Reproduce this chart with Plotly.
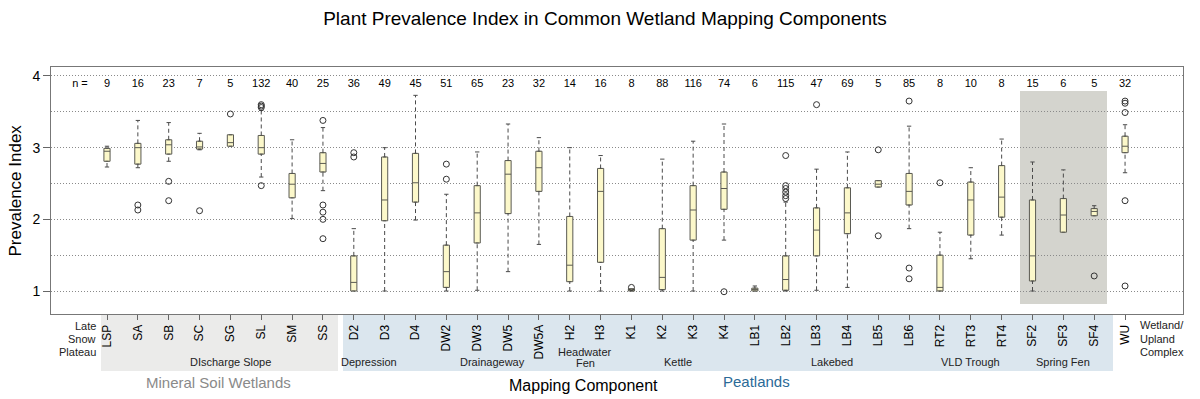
import plotly.graph_objects as go

# ---------------- data ----------------
categories = ["LSP", "SA", "SB", "SC", "SG", "SL", "SM", "SS",
              "D2", "D3", "D4", "DW2", "DW3", "DW5", "DW5A", "H2", "H3",
              "K1", "K2", "K3", "K4", "LB1", "LB2", "LB3", "LB4", "LB5", "LB6",
              "RT2", "RT3", "RT4", "SF2", "SF3", "SF4", "WU"]
n_counts = [9, 16, 23, 7, 5, 132, 40, 25,
            36, 49, 45, 51, 65, 23, 32, 14, 16,
            8, 88, 116, 74, 6, 115, 47, 69, 5, 85,
            8, 10, 8, 15, 6, 5, 32]
lower_whisker = [2.73, 2.72, 2.81, 2.97, 3.02, 2.59, 2.01, 2.40,
                 1.00, 1.00, 1.99, 1.00, 1.01, 1.27, 1.65, 1.00, 1.00,
                 1.00, 1.00, 1.00, 1.71, 1.00, 1.00, 1.01, 1.05, 2.45, 1.87,
                 1.00, 1.45, 1.78, 1.00, 1.82, 2.05, 2.65]
q1 = [2.81, 2.77, 2.91, 2.98, 3.02, 2.91, 2.30, 2.66,
      1.00, 1.98, 2.24, 1.05, 1.67, 2.08, 2.39, 1.13, 1.40,
      1.00, 1.02, 1.71, 2.14, 1.00, 1.01, 1.49, 1.80, 2.45, 2.20,
      1.00, 1.78, 2.03, 1.14, 1.82, 2.05, 2.93]
median = [2.95, 3.00, 3.04, 3.01, 3.07, 3.00, 2.49, 2.78,
          1.12, 2.27, 2.51, 1.27, 2.09, 2.63, 2.72, 1.36, 2.39,
          1.01, 1.19, 2.13, 2.43, 1.02, 1.16, 1.85, 2.09, 2.49, 2.39,
          1.05, 2.27, 2.31, 1.49, 2.06, 2.11, 3.02]
q3 = [2.99, 3.06, 3.11, 3.09, 3.18, 3.17, 2.64, 2.93,
      1.49, 2.87, 2.92, 1.64, 2.47, 2.82, 2.95, 2.04, 2.71,
      1.03, 1.87, 2.47, 2.66, 1.04, 1.49, 2.16, 2.44, 2.54, 2.64,
      1.50, 2.52, 2.75, 2.27, 2.29, 2.15, 3.16]
upper_whisker = [3.02, 3.38, 3.35, 3.20, 3.18, 3.52, 3.11, 3.28,
                 1.87, 3.00, 3.73, 2.35, 2.94, 3.33, 3.14, 3.00, 2.89,
                 1.03, 2.84, 3.09, 3.33, 1.07, 2.24, 2.70, 2.94, 2.54, 3.30,
                 1.82, 2.72, 3.12, 2.80, 2.69, 2.19, 3.32]
outlier_cat = ["SA", "SA", "SB", "SB", "SC", "SG", "SL", "SL", "SL", "SL",
               "SS", "SS", "SS", "SS", "SS", "D2", "D2", "DW2", "DW2", "K1", "K4",
               "LB2", "LB2", "LB2", "LB2", "LB2", "LB2", "LB3", "LB5", "LB5",
               "LB6", "LB6", "LB6", "RT2", "SF4", "WU", "WU", "WU", "WU", "WU"]
outlier_val = [2.20, 2.13, 2.53, 2.26, 2.12, 3.47, 3.60, 3.58, 3.56, 2.47,
               3.38, 2.20, 2.10, 2.00, 1.73, 2.93, 2.87, 2.77, 2.56, 1.05, 0.99,
               2.89, 2.47, 2.43, 2.38, 2.33, 2.29, 3.60, 2.97, 1.77,
               3.65, 1.32, 1.17, 2.51, 1.21, 3.65, 3.62, 3.49, 2.26, 1.07]
y_ticks = [1, 2, 3, 4]

group_labels = ["DIscharge Slope", "Depression", "Drainageway", "Kettle",
                "Lakebed", "VLD Trough", "Spring Fen"]
group_centers = [5, 9.5, 13.5, 19.5, 24.5, 29, 32]

# ---------------- helpers ----------------
pos = list(range(1, len(categories) + 1))
pos_of = {c: p for c, p in zip(categories, pos)}

W, H = 1200, 399
ML, MR, MT, MB = 51, 17, 67, 85
X0, STEP = 107, 30.85          # pixel of first category, pixels per category
xr = [1 + (ML - X0) / STEP, 1 + (W - MR - X0) / STEP]
y_px1, y_unit = 291, 71.67
yr = [1 + (y_px1 - (H - MB)) / y_unit, 1 + (y_px1 - MT) / y_unit]
plot_h = H - MB - MT


def py(px):
    """pixel row -> paper y"""
    return (H - MB - px) / plot_h


def dx(px):
    """pixel column -> data x"""
    return 1 + (px - X0) / STEP


fig = go.Figure()

# whiskers (dashed) and caps
wx, wy, cx, cy = [], [], [], []
cap = 0.07
for p, lo, a, b, hi in zip(pos, lower_whisker, q1, q3, upper_whisker):
    if hi > b + 0.005:
        wx += [p, p, None]; wy += [b, hi, None]
        cx += [p - cap, p + cap, None]; cy += [hi, hi, None]
    if lo < a - 0.005:
        wx += [p, p, None]; wy += [lo, a, None]
        cx += [p - cap, p + cap, None]; cy += [lo, lo, None]

fig.add_trace(go.Scatter(x=wx, y=wy, mode="lines", hoverinfo="skip",
                         line=dict(color="#4a4a4a", width=1, dash="4px,3px"),
                         showlegend=False))
fig.add_trace(go.Scatter(x=cx, y=cy, mode="lines", hoverinfo="skip",
                         line=dict(color="#4a4a4a", width=1), showlegend=False))

fig.add_trace(go.Box(x=pos, q1=q1, median=median, q3=q3,
                     lowerfence=q1, upperfence=q3, width=0.2,
                     fillcolor="#FCF8CA", line=dict(color="#5a5a52", width=1),
                     boxpoints=False, showlegend=False, hoverinfo="skip"))

fig.add_trace(go.Scatter(x=[pos_of[c] for c in outlier_cat], y=outlier_val,
                         mode="markers", showlegend=False,
                         marker=dict(symbol="circle-open", size=6,
                                     color="#333333", line=dict(width=1))))

# n labels
n_y = 1 + (y_px1 - 84) / y_unit
fig.add_trace(go.Scatter(x=[dx(80)] + pos, y=[n_y] * (len(pos) + 1),
                         text=["n ="] + [str(v) for v in n_counts],
                         mode="text", textfont=dict(size=11, color="black"),
                         showlegend=False, hoverinfo="skip"))

shapes = [
    dict(type="rect", xref="x", yref="y", x0=dx(1020), x1=dx(1107),
         y0=1 + (y_px1 - 304) / y_unit, y1=1 + (y_px1 - 91) / y_unit,
         fillcolor="#D4D4CE", line=dict(width=0), layer="below"),
    dict(type="rect", xref="x", yref="paper", x0=dx(101), x1=dx(338),
         y0=py(315), y1=py(371), fillcolor="#EBEBEA", line=dict(width=0), layer="below"),
    dict(type="rect", xref="x", yref="paper", x0=dx(343), x1=dx(1113),
         y0=py(315), y1=py(371), fillcolor="#DBE6EE", line=dict(width=0), layer="below"),
]

ann = []
for t, c in zip(group_labels, group_centers):
    ann.append(dict(text=t, x=c, y=py(362), xref="x", yref="paper",
                    showarrow=False, font=dict(size=11, color="#222"),
                    xanchor="center", yanchor="middle"))
for t, yy in zip(["Headwater", "Fen"], [352, 363]):
    ann.append(dict(text=t, x=16.5, y=py(yy), xref="x", yref="paper",
                    showarrow=False, font=dict(size=11, color="#222"),
                    xanchor="center", yanchor="middle"))
for t, yy in zip(["Late", "Snow", "Plateau"], [326, 339, 352]):
    ann.append(dict(text=t, x=dx(98), y=py(yy), xref="x", yref="paper",
                    showarrow=False, font=dict(size=11, color="#222"),
                    xanchor="right", yanchor="middle"))
for t, yy in zip(["Wetland/", "Upland", "Complex"], [325, 339, 352]):
    ann.append(dict(text=t, x=dx(1138), y=py(yy), xref="x", yref="paper",
                    showarrow=False, font=dict(size=11, color="#222"),
                    xanchor="left", yanchor="middle"))
ann.append(dict(text="Mineral Soil Wetlands", x=dx(218), y=py(382), xref="x",
                yref="paper", showarrow=False, font=dict(size=15, color="#8a8a8a"),
                xanchor="center", yanchor="middle"))
ann.append(dict(text="Mapping Component", x=dx(583), y=py(385), xref="x",
                yref="paper", showarrow=False, font=dict(size=16, color="black"),
                xanchor="center", yanchor="middle"))
ann.append(dict(text="Peatlands", x=dx(756), y=py(381), xref="x",
                yref="paper", showarrow=False, font=dict(size=15, color="#2B6A97"),
                xanchor="center", yanchor="middle"))
ann.append(dict(text="Prevalence Index", x=(15 - ML) / (W - ML - MR), y=0.5,
                xref="paper", yref="paper", showarrow=False, textangle=-90,
                font=dict(size=17, color="black"), xanchor="center", yanchor="middle"))

fig.update_layout(
    width=W, height=H,
    margin=dict(l=ML, r=MR, t=MT, b=MB, pad=0, autoexpand=False),
    paper_bgcolor="white", plot_bgcolor="white",
    font=dict(family="Liberation Sans, Arial, sans-serif", color="black"),
    title=dict(text="Plant Prevalence Index in Common Wetland Mapping Components",
               x=605 / W, xanchor="center", y=1 - 18 / H, yanchor="middle",
               font=dict(size=19, color="black")),
    shapes=shapes, annotations=ann,
    xaxis=dict(range=xr, tickmode="array", tickvals=pos, ticktext=categories,
               tickangle=-90, ticks="outside", ticklen=5, tickcolor="#666",
               tickfont=dict(size=12, color="black"), automargin=False,
               showline=True, mirror=True, linecolor="#777", linewidth=1,
               showgrid=False, zeroline=False),
    yaxis=dict(range=yr, tickmode="array", tickvals=y_ticks, automargin=False,
               ticks="outside", ticklen=7, tickcolor="#666",
               tickfont=dict(size=14, color="black"),
               showline=True, mirror=True, linecolor="#777", linewidth=1,
               showgrid=True, gridcolor="#8a8a8a", griddash="1px,2px", gridwidth=1,
               minor=dict(tickmode="linear", tick0=0.5, dtick=1, showgrid=True,
                          gridcolor="#8a8a8a", griddash="1px,2px", gridwidth=1),
               zeroline=False),
)

fig.write_html("out.html", config={"displayModeBar": False},
               post_script="document.body.style.margin='0';"
                           "document.body.style.padding='0';")
